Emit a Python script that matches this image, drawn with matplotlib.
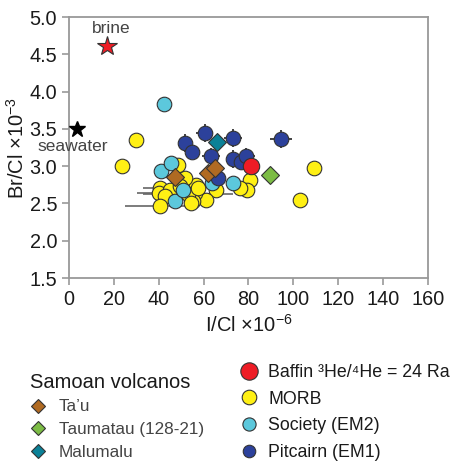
import matplotlib
matplotlib.use("Agg")
import matplotlib.pyplot as plt
from matplotlib.lines import Line2D

plt.rcParams["font.family"] = ["Liberation Sans", "DejaVu Sans"]
plt.rcParams["mathtext.fontset"] = "custom"
plt.rcParams["mathtext.rm"] = "Liberation Sans"
plt.rcParams["mathtext.default"] = "regular"

# I/Cl (x10^-6) and Br/Cl (x10^-3) per sample group
morb_x = [30.0, 23.5, 109.4, 103.1, 80.5, 79.3, 76.0, 65.6, 61.2, 56.7, 56.0, 55.2,
          53.0, 51.5, 48.6, 40.4, 40.1, 44.9, 42.6, 40.4, 49.3, 57.5, 54.5]
morb_y = [3.35, 3.00, 2.98, 2.54, 2.82, 2.68, 2.71, 2.68, 2.55, 2.75, 2.64, 2.53,
          2.62, 2.84, 3.02, 2.71, 2.64, 2.68, 2.60, 2.47, 2.73, 2.71, 2.51]
morb_xerr = [0, 0, 0, 0, 0, 0, 0, 0, 0, 0, 0, 0,
             20, 0, 0, 7.6, 10, 0, 0, 15.5, 0, 0, 0]

society_x = [42.2, 41.2, 45.6, 47.1, 50.8, 63.9, 73.0]
society_y = [3.84, 2.94, 3.04, 2.53, 2.68, 2.77, 2.77]
society_yerr = [0.09, 0, 0, 0, 0, 0, 0]

pitcairn_x = [51.5, 55.0, 60.4, 73.0, 94.6, 63.4, 73.0, 76.8, 79.0, 66.4]
pitcairn_y = [3.31, 3.19, 3.45, 3.38, 3.36, 3.13, 3.09, 3.06, 3.13, 2.84]
pitcairn_xerr = [0, 0, 4, 4, 5, 4, 0, 0, 4, 0]
pitcairn_yerr = [0.12, 0, 0.12, 0.12, 0.12, 0.12, 0.12, 0, 0.12, 0]

tau_x = [47.1, 61.9, 64.9]
tau_y = [2.86, 2.91, 2.98]
taumatau_x = [89.4]
taumatau_y = [2.88]
malumalu_x = [65.9]
malumalu_y = [3.33]

baffin_x = [81.2]
baffin_y = [3.00]

brine = (16.8, 4.61)
seawater = (3.4, 3.50)

c_morb = "#fff014"
c_society = "#5cc8dc"
c_pitcairn = "#2c419b"
c_tau = "#b06a22"
c_taumatau = "#7cbc45"
c_malumalu = "#0b8197"
c_baffin = "#ee1c25"
edge = "#333333"

fig = plt.figure(figsize=(4.68, 4.70), dpi=100)
ax = fig.add_axes([0.1474, 0.4085, 0.7671, 0.5553])

ax.errorbar(morb_x, morb_y, xerr=morb_xerr, fmt="none", ecolor="#666666",
            elinewidth=1.2, capsize=0, zorder=1)
ax.errorbar(society_x, society_y, yerr=society_yerr, fmt="none", ecolor="#333333",
            elinewidth=1.2, capsize=0, zorder=1)
ax.errorbar(pitcairn_x, pitcairn_y, xerr=pitcairn_xerr, yerr=pitcairn_yerr, fmt="none",
            ecolor="#222222", elinewidth=1.2, capsize=0, zorder=1)

circ = dict(linestyle="none", marker="o", markeredgecolor=edge, markeredgewidth=0.8)
diam = dict(linestyle="none", marker="D", markeredgecolor=edge, markeredgewidth=0.8)
ax.plot(morb_x, morb_y, markerfacecolor=c_morb, markersize=10.5, zorder=2, **circ)
ax.plot(society_x, society_y, markerfacecolor=c_society, markersize=10.5, zorder=3, **circ)
ax.plot(pitcairn_x, pitcairn_y, markerfacecolor=c_pitcairn, markersize=10.5, zorder=3, **circ)
ax.plot(tau_x, tau_y, markerfacecolor=c_tau, markersize=9.2, zorder=4, **diam)
ax.plot(taumatau_x, taumatau_y, markerfacecolor=c_taumatau, markersize=9.6, zorder=4, **diam)
ax.plot(malumalu_x, malumalu_y, markerfacecolor=c_malumalu, markersize=9.6, zorder=4, **diam)
ax.plot(baffin_x, baffin_y, markerfacecolor=c_baffin, markersize=11.8, zorder=5, **circ)

ax.plot(*brine, marker="*", markersize=15, markerfacecolor=c_baffin,
        markeredgecolor=edge, markeredgewidth=0.8, zorder=5)
ax.plot(*seawater, marker="*", markersize=12, color="black", zorder=5, clip_on=False)
ax.text(19.0, 4.85, "brine", fontsize=12.5, color="#444444", ha="center", va="center")
ax.text(1.6, 3.27, "seawater", fontsize=12.5, color="#444444", ha="center", va="center")

ax.set_xlim(0, 160)
ax.set_ylim(1.5, 5.0)
ax.set_xticks(range(0, 161, 20))
ax.set_yticks([1.5, 2.0, 2.5, 3.0, 3.5, 4.0, 4.5, 5.0])
ax.set_yticklabels([f"{v:.1f}" for v in ax.get_yticks()])
for s in ax.spines.values():
    s.set_color("#999999")
    s.set_linewidth(1.3)
ax.tick_params(colors="#999999", labelcolor="#1a1a1a", labelsize=14.3, length=5, width=1.2)
ax.set_xlabel("I/Cl ×10$^{-6}$", fontsize=14.5, color="#1a1a1a", labelpad=4)
ax.set_ylabel("Br/Cl ×10$^{-3}$", fontsize=14.5, color="#1a1a1a", labelpad=1)

# legends: Samoan volcanos on the left, reference groups on the right
def handle(color, marker, size):
    return Line2D([], [], linestyle="none", marker=marker, markersize=size,
                  markerfacecolor=color, markeredgecolor=edge, markeredgewidth=0.8)

left = fig.legend(
    [handle(c_tau, "D", 7.5), handle(c_taumatau, "D", 7.5), handle(c_malumalu, "D", 7.5)],
    ["Ta’u", "Taumatau (128-21)", "Malumalu"],
    loc="upper left", bbox_to_anchor=(0.045, 0.225), frameon=False,
    fontsize=12.3, title="Samoan volcanos", title_fontsize=14.5, alignment="left",
    handletextpad=0.7, labelspacing=0.45, borderpad=0, handlelength=1.0)
for t in left.get_texts():
    t.set_color("#444444")
left.get_title().set_color("#1a1a1a")

right = fig.legend(
    [handle(c_baffin, "o", 12.5), handle(c_morb, "o", 10.5),
     handle(c_society, "o", 9.5), handle(c_pitcairn, "o", 9)],
    ["Baffin ³He/⁴He = 24 Ra", "MORB", "Society (EM2)", "Pitcairn (EM1)"],
    loc="upper left", bbox_to_anchor=(0.49, 0.245), frameon=False,
    fontsize=12.8, handletextpad=0.5, labelspacing=0.55, borderpad=0, handlelength=1.2)
for t in right.get_texts():
    t.set_color("#1a1a1a")

fig.savefig("out.png", dpi=100)
